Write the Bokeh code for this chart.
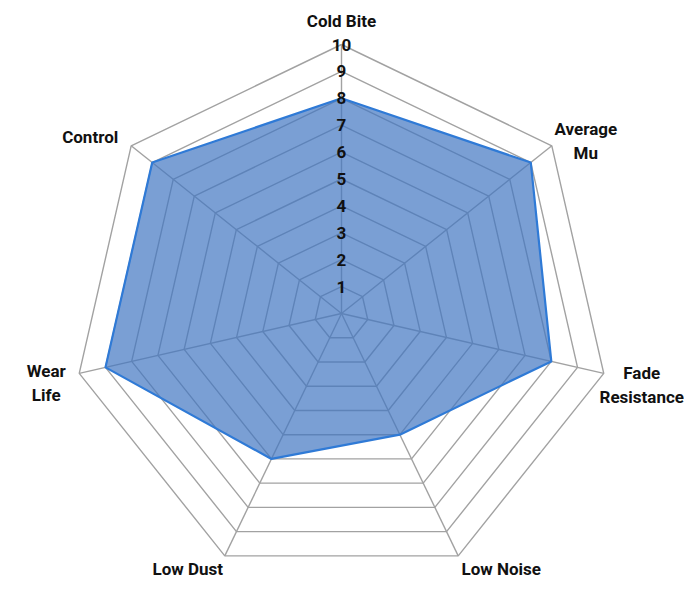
import numpy as np
from bokeh.plotting import figure
from bokeh.core.properties import value
from bokeh.embed import file_html
from bokeh.resources import INLINE

# ---- data ----
categories = ["Cold Bite", "Average Mu", "Fade Resistance", "Low Noise",
              "Low Dust", "Wear Life", "Control"]
label_lines = [["Cold Bite"], ["Average", "Mu"], ["Fade", "Resistance"],
               ["Low Noise"], ["Low Dust"], ["Wear", "Life"], ["Control"]]
scores = [8, 9, 8, 5, 6, 9, 9]
levels = [1, 2, 3, 4, 5, 6, 7, 8, 9, 10]
tick_labels = ["1", "2", "3", "4", "5", "6", "7", "8", "9", "10"]

# ---- layout ----
W, H = 684, 581
PX = 26.9            # pixels per unit
CX, CY = 341, 313    # centre in canvas pixels
FONT = "Roboto"
FONT_SIZE = "17px"
LINE_STEP = 24       # px between label lines
# label centre offsets from the outer vertex, in pixels (right, down)
LABEL_OFF = [(0, -24), (34, -5), (38, 12), (43, 13), (-37, 13), (-33, 10), (-41, -9)]

n = len(categories)
ang = np.pi / 2 - 2 * np.pi * np.arange(n) / n
cosa, sina = np.cos(ang), np.sin(ang)

p = figure(width=W, height=H, output_backend="svg", toolbar_location=None,
           x_range=(-CX / PX, (W - CX) / PX), y_range=(-(H - CY) / PX, CY / PX),
           x_axis_location=None, y_axis_location=None, min_border=0)
p.grid.visible = False
p.outline_line_color = None
p.background_fill_color = "white"

grid_color = "#a2a2a2"
top = max(levels)
# grid polygons
gx = [list(np.append(lv * cosa, lv * cosa[0])) for lv in levels]
gy = [list(np.append(lv * sina, lv * sina[0])) for lv in levels]
p.multi_line(gx, gy, line_color=grid_color, line_width=1.4)
# spokes
p.multi_line([[0, top * c] for c in cosa], [[0, top * s] for s in sina],
             line_color=grid_color, line_width=1.4)

# data area
sc = np.array(scores, dtype=float)
dx = list(sc * cosa)
dy = list(sc * sina)
p.patch(dx, dy, fill_color="#4276c2", fill_alpha=0.70, line_color=None)
p.line(dx + [dx[0]], dy + [dy[0]], line_color="#2f7ad6", line_width=2.2)

# tick labels along first axis
p.text(x=[0] * len(levels), y=levels, text=tick_labels,
       text_font=value(FONT), text_font_style="bold", text_font_size=FONT_SIZE,
       text_color="#111111", text_align="center", text_baseline="middle")

# category labels
lx, ly, lt = [], [], []
for i, lines in enumerate(label_lines):
    ox, oy = LABEL_OFF[i]
    bx = top * cosa[i] + ox / PX
    by = top * sina[i] - oy / PX
    k = len(lines)
    for j, t in enumerate(lines):
        lx.append(bx)
        ly.append(by + ((k - 1) / 2 - j) * LINE_STEP / PX)
        lt.append(t)
p.text(x=lx, y=ly, text=lt, text_font=value(FONT), text_font_style="bold",
       text_font_size=FONT_SIZE, text_color="#111111",
       text_align="center", text_baseline="middle")

open("out.html", "w").write(file_html(p, INLINE))
